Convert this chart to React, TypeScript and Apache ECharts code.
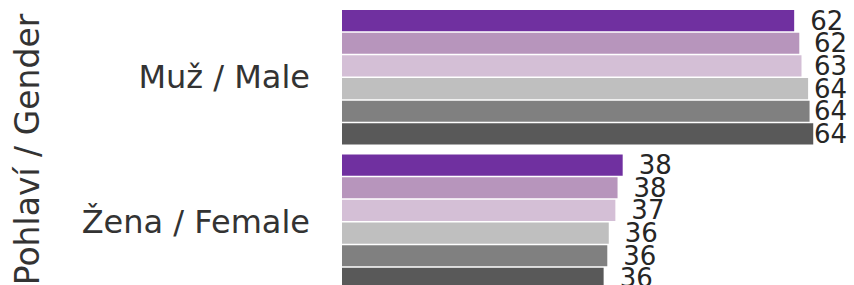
import React, { useEffect, useRef } from "react";
import * as echarts from "echarts";

const categories = ["Muž / Male", "Žena / Female"];
const seriesNames = ["S1", "S2", "S3", "S4", "S5", "S6"];
const seriesValues: number[][] = [
  [61.7, 38.3],
  [62.4, 37.6],
  [62.7, 37.3],
  [63.6, 36.4],
  [63.8, 36.2],
  [64.3, 35.7],
];
const colors = ["#7030A0", "#B795BC", "#D4BFD6", "#BFBFBF", "#808080", "#595959"];
const axisTitle = "Pohlaví / Gender";

export default function App() {
  const ref = useRef<HTMLDivElement>(null);
  useEffect(() => {
    if (!ref.current) return;
    const chart = echarts.init(ref.current, null, { renderer: "svg" });
    const font = "DejaVu Sans";
    chart.setOption({
      animation: false,
      textStyle: { fontFamily: font },
      grid: {
        left: 342,
        right: -1,
        top: 5,
        bottom: -9,
        containLabel: false,
        outerBoundsMode: "none",
      },
      xAxis: {
        type: "value",
        min: 0,
        max: 70,
        show: false,
      },
      yAxis: {
        type: "category",
        data: categories,
        inverse: true,
        axisLine: { show: false },
        axisTick: { show: false },
        axisLabel: { fontSize: 32, color: "#333333", margin: 32, fontFamily: font },
        name: axisTitle,
        nameLocation: "middle",
        nameRotate: 90,
        nameGap: 298,
        nameTextStyle: { fontSize: 33, color: "#333333", fontFamily: font },
      },
      labelLayout: (p: any) => {
        const r = p.labelRect;
        const maxRight = 847;
        if (r.x + r.width > maxRight) return { dx: maxRight - (r.x + r.width) };
        return {};
      },
      series: seriesValues.map((vals, i) => ({
        type: "bar",
        name: seriesNames[i],
        data: vals,
        barGap: "7%",
        barCategoryGap: "7%",
        itemStyle: { color: colors[i] },
        label: {
          show: true,
          position: "right",
          distance: 16,
          fontSize: 26,
          color: "#262626",
          fontFamily: font,
          formatter: (p: any) => String(Math.round(p.value)),
        },
      })),
    });
    return () => chart.dispose();
  }, []);
  return (
    <div
      ref={ref}
      style={{ position: "absolute", left: 0, top: 0, width: 854, height: 285 }}
    />
  );
}
